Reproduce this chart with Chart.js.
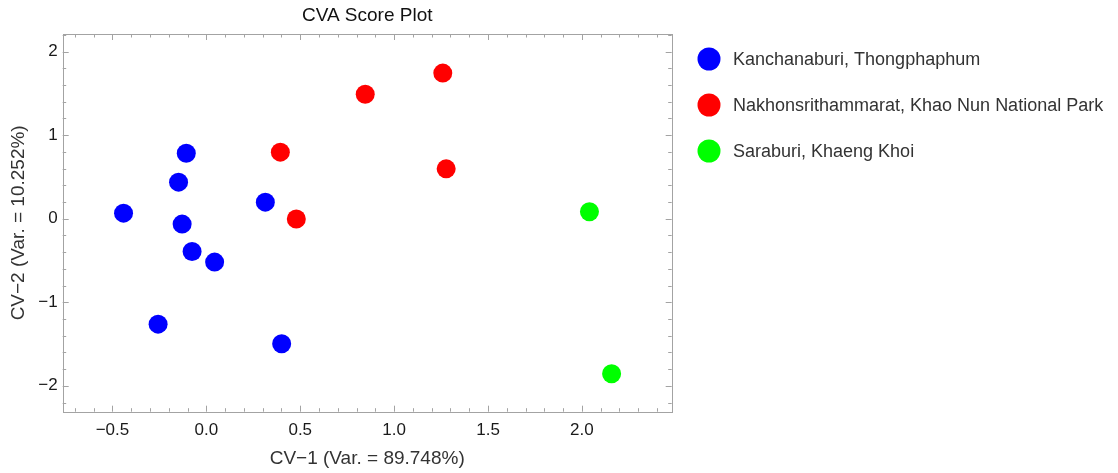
<!DOCTYPE html>
<html>
<head>
<meta charset="utf-8">
<script src="https://cdn.jsdelivr.net/npm/chart.js@4/dist/chart.umd.min.js"></script>
<style>
  html, body { margin: 0; padding: 0; background: #ffffff; }
  #wrap { width: 1118px; height: 473px; }
</style>
</head>
<body>
<div id="wrap"><canvas id="cva" width="1118" height="473"></canvas></div>
<script>
// Canonical variate scores per collection site
const groupNames = [
  'Kanchanaburi, Thongphaphum',
  'Nakhonsrithammarat, Khao Nun National Park',
  'Saraburi, Khaeng Khoi'
];
const groupColors = ['#0000ff', '#ff0000', '#00ff00'];

const kanchanaburiCV1 = [-0.441, -0.107, -0.148, -0.129, -0.076, 0.044, 0.314, -0.257, 0.401];
const kanchanaburiCV2 = [0.066, 0.784, 0.437, -0.065, -0.393, -0.520, 0.198, -1.262, -1.497];

const nakhonCV1 = [0.394, 0.479, 0.846, 1.259, 1.277];
const nakhonCV2 = [0.796, -0.005, 1.490, 1.742, 0.596];

const saraburiCV1 = [2.040, 2.158];
const saraburiCV2 = [0.082, -1.856];

const xTickValues = [-0.5, 0.0, 0.5, 1.0, 1.5, 2.0];
const yTickValues = [-2, -1, 0, 1, 2];

const plotTitle = 'CVA Score Plot';
const xTitle = 'CV\u22121 (Var. = 89.748%)';
const yTitle = 'CV\u22122 (Var. = 10.252%)';

const FONT = '"Liberation Sans", Arial, Helvetica, sans-serif';
const FRAME = '#a3a3a3';

function pairs(xs, ys) {
  return xs.map((x, i) => ({ x: x, y: ys[i] }));
}
function fmtMinus(s) { return String(s).replace('-', '\u2212'); }

const seriesX = [kanchanaburiCV1, nakhonCV1, saraburiCV1];
const seriesY = [kanchanaburiCV2, nakhonCV2, saraburiCV2];

const datasets = groupNames.map((name, g) => ({
  label: name,
  data: pairs(seriesX[g], seriesY[g]),
  backgroundColor: groupColors[g],
  borderColor: groupColors[g],
  borderWidth: 0,
  pointRadius: 9.5,
  pointHoverRadius: 9.5
}));

// Frame with inward major/minor ticks on all four sides, title and legend
const framePlugin = {
  id: 'framePlugin',
  beforeDatasetsDraw(chart) {
    const { ctx, chartArea: a, scales } = chart;
    const xs = scales.x, ys = scales.y;
    ctx.save();
    ctx.strokeStyle = FRAME;
    ctx.lineWidth = 1;
    ctx.strokeRect(Math.round(a.left) + 0.5, Math.round(a.top) + 0.5,
                   Math.round(a.right - a.left), Math.round(a.bottom - a.top));
    const tick = (x1, y1, x2, y2) => {
      ctx.beginPath(); ctx.moveTo(x1, y1); ctx.lineTo(x2, y2); ctx.stroke();
    };
    // x ticks
    const isMajorX = v => xTickValues.some(t => Math.abs(t - v) < 1e-6);
    for (let k = Math.ceil(xs.min / 0.1); k * 0.1 <= xs.max + 1e-9; k++) {
      const v = k * 0.1;
      const len = isMajorX(v) ? 6 : 3.5;
      const px = Math.round(xs.getPixelForValue(v)) + 0.5;
      tick(px, a.bottom, px, a.bottom - len);
      tick(px, a.top, px, a.top + len);
    }
    // y ticks
    const isMajorY = v => yTickValues.some(t => Math.abs(t - v) < 1e-6);
    for (let k = Math.ceil(ys.min / 0.2); k * 0.2 <= ys.max + 1e-9; k++) {
      const v = k * 0.2;
      const len = isMajorY(v) ? 6 : 3.5;
      const py = Math.round(ys.getPixelForValue(v)) + 0.5;
      tick(a.left, py, a.left + len, py);
      tick(a.right, py, a.right - len, py);
    }
    ctx.restore();
  },
  afterDraw(chart) {
    const { ctx, chartArea: a } = chart;
    ctx.save();
    // title
    ctx.fillStyle = '#111111';
    ctx.font = '19px ' + FONT;
    ctx.textAlign = 'center';
    ctx.textBaseline = 'middle';
    ctx.fillText(plotTitle, (a.left + a.right) / 2, 16);
    // legend
    ctx.font = '18px ' + FONT;
    ctx.textAlign = 'left';
    chart.data.datasets.forEach((ds, i) => {
      const cy = 59 + i * 46;
      ctx.fillStyle = ds.backgroundColor;
      ctx.beginPath();
      ctx.arc(709, cy, 11.5, 0, Math.PI * 2);
      ctx.fill();
      ctx.fillStyle = '#333333';
      ctx.fillText(ds.label, 733, cy + 1);
    });
    ctx.restore();
  }
};

new Chart(document.getElementById('cva'), {
  type: 'scatter',
  data: { datasets: datasets },
  options: {
    responsive: false,
    animation: false,
    devicePixelRatio: 1,
    layout: { padding: { left: 0, top: 34, right: 446.3, bottom: 0 } },
    plugins: {
      legend: { display: false },
      title: { display: false },
      tooltip: { enabled: false }
    },
    scales: {
      x: {
        type: 'linear',
        position: 'bottom',
        min: -0.765,
        max: 2.478,
        afterFit(scale) { scale.height = 61.3; },
        afterBuildTicks(scale) { scale.ticks = xTickValues.map(v => ({ value: v })); },
        grid: { display: false, drawTicks: false },
        border: { display: false },
        ticks: {
          padding: 8,
          color: '#1a1a1a',
          font: { family: FONT, size: 17 },
          callback: v => fmtMinus(Number(v).toFixed(1))
        },
        title: {
          display: true,
          text: xTitle,
          color: '#333333',
          font: { family: FONT, size: 19 },
          padding: { top: 0, bottom: 3 }
        }
      },
      y: {
        type: 'linear',
        position: 'left',
        min: -2.31,
        max: 2.21,
        afterFit(scale) { scale.width = 62.7; },
        afterBuildTicks(scale) { scale.ticks = yTickValues.map(v => ({ value: v })); },
        grid: { display: false, drawTicks: false },
        border: { display: false },
        ticks: {
          padding: 5,
          color: '#1a1a1a',
          font: { family: FONT, size: 17 },
          callback: v => fmtMinus(String(v))
        },
        title: {
          display: true,
          text: yTitle,
          color: '#333333',
          font: { family: FONT, size: 19 },
          padding: { top: 7, bottom: 0 }
        }
      }
    }
  },
  plugins: [framePlugin]
});
</script>
</body>
</html>
